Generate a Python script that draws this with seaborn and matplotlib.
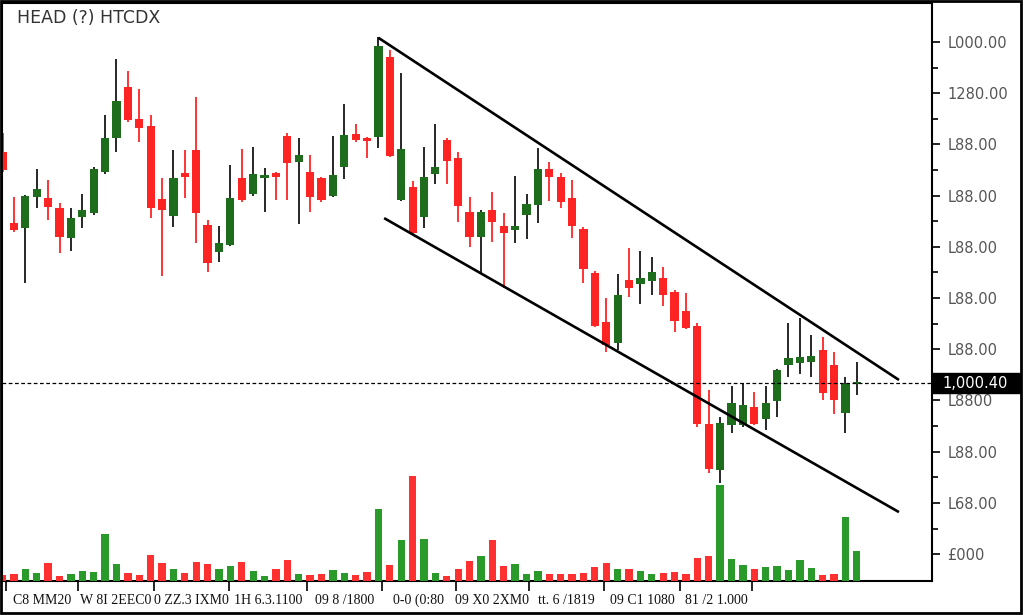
#!/usr/bin/env python3
"""Candlestick chart with a falling channel and volume bars."""
import matplotlib

matplotlib.use("Agg")
import matplotlib.pyplot as plt
import matplotlib.transforms as mtransforms
from matplotlib.patches import Rectangle
import numpy as np
import pandas as pd
import seaborn as sns

TITLE = "HEAD (?) HTCDX"

opens = [1157.0, 1129.3, 1127.3, 1139.5, 1139.1, 1135.2, 1123.4, 1131.6, 1133.2, 1149.2,
         1162.5, 1182.4, 1169.9, 1167.2, 1138.7, 1132.0, 1148.8, 1157.8, 1128.5, 1118.0,
         1120.7, 1146.9, 1140.6, 1146.9, 1148.8, 1163.3, 1153.1, 1149.2, 1146.9, 1139.8,
         1151.2, 1164.1, 1162.5, 1162.9, 1194.1, 1138.3, 1143.4, 1131.6, 1148.4, 1161.7,
         1154.7, 1133.6, 1123.8, 1134.4, 1128.1, 1126.6, 1132.4, 1136.3, 1150.4, 1147.3,
         1139.1, 1127.0, 1109.8, 1090.6, 1082.4, 1107.0, 1105.5, 1106.6, 1107.8, 1102.3,
         1094.9, 1089.1, 1050.8, 1032.8, 1050.4, 1050.4, 1057.4, 1052.7, 1059.8, 1073.8,
         1074.6, 1075.0, 1079.7, 1073.8, 1055.1, 1066.4]
highs = [1164.5, 1139.5, 1140.2, 1150.4, 1146.1, 1137.1, 1135.2, 1140.6, 1151.2, 1171.5,
         1193.4, 1188.7, 1181.6, 1171.5, 1146.9, 1157.8, 1157.8, 1178.5, 1130.5, 1128.1,
         1152.0, 1158.2, 1159.0, 1150.8, 1149.2, 1164.5, 1162.5, 1155.9, 1147.3, 1163.3,
         1175.8, 1168.0, 1162.9, 1202.0, 1196.9, 1187.9, 1145.7, 1159.0, 1168.0, 1162.5,
         1157.0, 1139.5, 1134.4, 1141.4, 1133.2, 1147.7, 1140.6, 1158.6, 1153.1, 1148.8,
         1146.1, 1127.7, 1110.5, 1100.0, 1109.4, 1119.5, 1118.4, 1116.0, 1112.1, 1103.1,
         1101.9, 1090.2, 1064.1, 1053.5, 1065.6, 1066.8, 1063.3, 1065.6, 1072.3, 1090.2,
         1092.2, 1085.5, 1084.8, 1078.9, 1069.1, 1075.0]
lows = [1149.2, 1125.8, 1105.9, 1135.2, 1130.5, 1117.6, 1118.4, 1127.3, 1132.4, 1148.4,
        1157.0, 1168.7, 1160.9, 1131.2, 1108.6, 1127.7, 1139.1, 1121.5, 1110.2, 1114.1,
        1120.3, 1137.5, 1139.8, 1133.6, 1138.3, 1138.3, 1128.9, 1133.6, 1137.5, 1139.5,
        1146.5, 1160.9, 1154.7, 1158.6, 1155.1, 1137.9, 1125.0, 1127.3, 1144.5, 1144.5,
        1129.7, 1119.9, 1109.4, 1121.9, 1103.9, 1121.5, 1123.0, 1129.3, 1137.9, 1135.2,
        1123.4, 1105.9, 1088.7, 1078.9, 1079.7, 1100.4, 1097.7, 1101.2, 1096.9, 1086.7,
        1087.9, 1049.6, 1031.6, 1027.7, 1047.3, 1049.6, 1050.4, 1048.4, 1053.5, 1069.1,
        1070.3, 1069.1, 1060.2, 1054.7, 1047.3, 1062.1]
closes = [1150.0, 1126.6, 1139.8, 1142.6, 1135.5, 1123.8, 1131.2, 1134.4, 1150.4, 1162.5,
          1177.0, 1169.5, 1166.4, 1135.2, 1134.4, 1146.9, 1147.3, 1133.2, 1113.7, 1121.5,
          1139.1, 1138.3, 1148.4, 1148.0, 1147.3, 1152.7, 1155.9, 1139.5, 1138.3, 1148.0,
          1163.7, 1161.7, 1161.3, 1198.4, 1155.5, 1158.2, 1125.4, 1147.3, 1151.2, 1153.5,
          1135.9, 1123.8, 1133.6, 1129.7, 1125.4, 1128.1, 1136.7, 1150.4, 1147.3, 1137.5,
          1128.1, 1111.3, 1089.1, 1081.6, 1101.2, 1103.9, 1107.8, 1110.2, 1101.2, 1091.0,
          1088.3, 1050.8, 1033.2, 1051.2, 1059.0, 1058.2, 1050.8, 1059.0, 1071.9, 1076.6,
          1077.0, 1077.3, 1062.9, 1060.2, 1066.4, 1067.2]
volumes = [60, 70, 120, 80, 180, 50, 70, 100, 90, 470,
           170, 80, 60, 260, 180, 120, 80, 190, 170, 120,
           150, 190, 100, 50, 120, 210, 70, 60, 70, 110,
           80, 60, 90, 720, 160, 410, 1050, 420, 80, 50,
           120, 200, 250, 410, 150, 170, 70, 100, 70, 70,
           70, 80, 140, 180, 120, 120, 100, 70, 80, 90,
           70, 230, 250, 960, 220, 160, 120, 140, 150, 110,
           210, 130, 60, 70, 640, 300]

LAST_PRICE = 1066.8
LAST_LABEL = "1,000.40"

# channel lines: (start index, start price) -> (end index, end price)
UPPER_LINE = ([33.0, 78.7], [1201.6, 1068.0])
LOWER_LINE = ([33.5, 78.7], [1131.2, 1016.4])

PRICE_TICKS = [1000, 1020, 1040, 1060, 1080, 1100, 1120, 1140, 1160, 1180, 1200]
PRICE_TICK_LABELS = ["£000", "L68.00", "L88.00", "L8800", "L88.00", "L88.00",
                     "L88.00", "L88.00", "L88.00", "1280.00", "L000.00"]
DATE_TICKS = [0.3, 6.6, 13.3, 19.9, 26.7, 33.3, 39.8, 46.2, 52.8, 59.5, 65.8]
DATE_LABELS = ["C8 MM20", "W 8I 2EEC0", "0 ZZ.3 IXM0", "1H 6.3.1100", "09 8 /1800",
               "0-0 (0:80", "09 X0 2XM0", "tt. 6 /1819", "09 C1 1080", "81 /2 1.000"]

RED = "#ff2424"
GREEN = "#1d6d1d"
VOL_RED = "#ff3030"
VOL_GREEN = "#2a9a2a"


def main() -> None:
    sns.set_theme(style="ticks")
    plt.rcParams["font.family"] = ["DejaVu Sans"]

    df = pd.DataFrame({"open": opens, "high": highs, "low": lows,
                       "close": closes, "volume": volumes})
    df["idx"] = np.arange(len(df))
    df["dir"] = np.where(df["close"] >= df["open"], "up", "down")
    df["body_lo"] = df[["open", "close"]].min(axis=1)
    df["body_h"] = (df["close"] - df["open"]).abs().clip(lower=0.9)

    fig = plt.figure(figsize=(10.24, 6.15), dpi=100)
    fig.patch.set_facecolor("white")
    ax = fig.add_axes([2 / 1024, 34 / 615, 930 / 1024, 578 / 615])

    # wicks then bodies
    up = df[df["dir"] == "up"]
    down = df[df["dir"] == "down"]
    ax.vlines(up["idx"], up["low"], up["high"], color="#161616", lw=1.3, zorder=2)
    ax.vlines(down["idx"], down["low"], down["high"], color=RED, lw=1.3, zorder=2)
    ax.bar(up["idx"], up["body_h"], bottom=up["body_lo"], width=0.72,
           color=GREEN, linewidth=0, zorder=3)
    ax.bar(down["idx"], down["body_h"], bottom=down["body_lo"], width=0.72,
           color=RED, linewidth=0, zorder=3)

    # falling channel
    ax.plot(*UPPER_LINE, color="black", lw=1.9, zorder=4, solid_capstyle="butt")
    ax.plot(*LOWER_LINE, color="black", lw=1.9, zorder=4, solid_capstyle="butt")
    ax.axhline(LAST_PRICE, color="black", lw=0.9, ls=(0, (3, 2)), zorder=4)

    # volume on a twin axis at the bottom
    vax = ax.twinx()
    sns.barplot(data=df, x="idx", y="volume", hue="dir",
                palette={"up": VOL_GREEN, "down": VOL_RED}, native_scale=True,
                width=0.64, dodge=False, errorbar=None, saturation=1,
                linewidth=0, legend=False, ax=vax)
    vax.set_ylim(0, df["volume"].max() * 5.5)
    vax.set_yticks([])
    vax.set_ylabel("")
    vax.set_xlabel("")
    for s in vax.spines.values():
        s.set_visible(False)

    ax.set_xlim(-0.05, 81.6)
    ax.set_ylim(989.5, 1215.2)

    ax.yaxis.tick_right()
    ax.set_yticks(PRICE_TICKS)
    ax.set_yticklabels(PRICE_TICK_LABELS)
    ax.set_yticks([t + 10 for t in PRICE_TICKS[:-1]], minor=True)
    ax.tick_params(axis="y", which="major", direction="out", length=6, width=1.2,
                   color="black", labelcolor="#555555", labelsize=10.5, pad=5,
                   left=False, right=True)
    ax.tick_params(axis="y", which="minor", direction="out", length=4, width=1.2,
                   color="black", left=False, right=True)

    mids = [(a + b) / 2 for a, b in zip(DATE_TICKS[:-1], DATE_TICKS[1:])]
    ax.set_xticks(DATE_TICKS)
    ax.set_xticklabels([])
    ax.set_xticks(mids, minor=True)
    ax.set_xticklabels(DATE_LABELS, minor=True)
    ax.tick_params(axis="x", which="major", direction="out", length=7, width=1.2,
                   color="black")
    ax.tick_params(axis="x", which="minor", length=0, labelsize=10, pad=9,
                   labelcolor="#111111")
    for lab in ax.get_xticklabels(minor=True):
        lab.set_fontfamily(["Liberation Serif", "DejaVu Serif"])

    for s in ax.spines.values():
        s.set_visible(True)
        s.set_color("black")
        s.set_linewidth(1.5)

    # last price tag on the right axis
    trans = mtransforms.blended_transform_factory(ax.transAxes, ax.transData)
    box_h = (1215.2 - 989.5) / 578 * 20
    ax.add_patch(Rectangle((1.0, LAST_PRICE - box_h / 2), 88 / 930, box_h,
                           transform=trans, facecolor="black", edgecolor="black",
                           clip_on=False, zorder=6))
    ax.text(1.0 + 10 / 930, LAST_PRICE, LAST_LABEL, transform=trans, color="white",
            fontsize=10.5, ha="left", va="center", zorder=7, clip_on=False)

    fig.text(17 / 1024, 1 - 18 / 615, TITLE, fontsize=12.5, color="#333333",
             ha="left", va="center")

    # outer frame
    fig.add_artist(Rectangle((0.001, 0.003), 0.996, 0.995, transform=fig.transFigure,
                             fill=False, edgecolor="black", linewidth=2))

    fig.savefig("out.png", dpi=100, facecolor="white")
    plt.close(fig)


if __name__ == "__main__":
    main()
